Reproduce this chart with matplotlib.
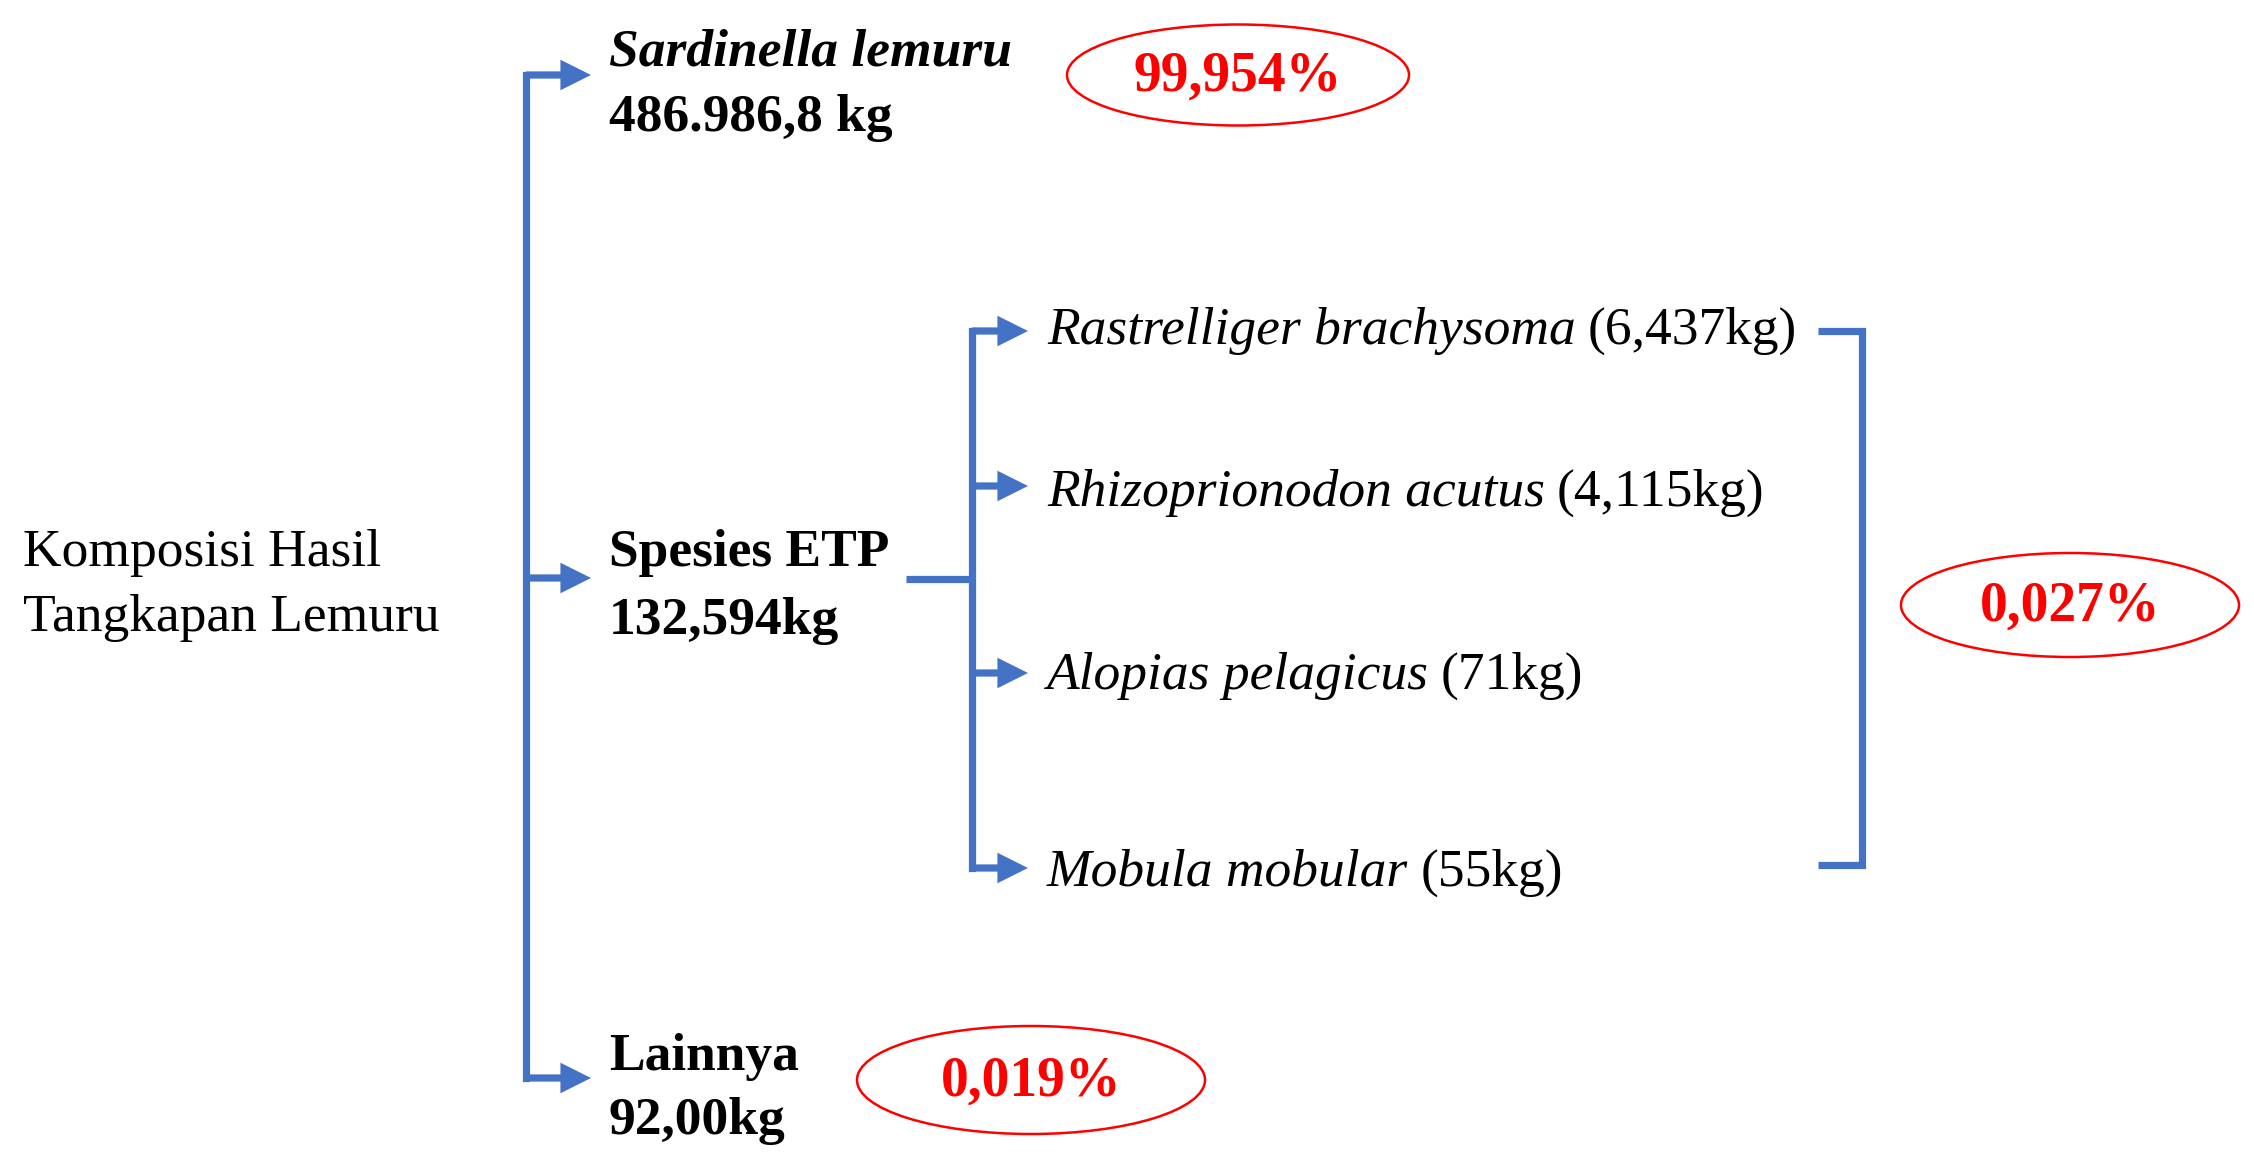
"""
Komposisi hasil tangkapan lemuru: tree diagram with catch weights and shares.
"""
import matplotlib
matplotlib.use("Agg")
import matplotlib.pyplot as plt
from matplotlib.patches import Ellipse, FancyArrowPatch

# ── Data ───────────────────────────────────────────────────────────────────────
ROOT_LINES   = ["Komposisi Hasil", "Tangkapan Lemuru"]
GROUPS       = ["Sardinella lemuru", "Spesies ETP", "Lainnya"]
GROUP_WEIGHT = ["486.986,8 kg", "132,594kg", "92,00kg"]
ETP_SPECIES  = ["Rastrelliger brachysoma", "Rhizoprionodon acutus",
                "Alopias pelagicus", "Mobula mobular"]
ETP_WEIGHT   = ["(6,437kg)", "(4,115kg)", "(71kg)", "(55kg)"]
SHARES       = ["99,954%", "0,027%", "0,019%"]

# ── Style / layout (pixel coordinates, y downward) ────────────────────────────
W, H = 2254, 1152
BLUE = "#4472C4"
RED = "#FF0000"
FONT = "Liberation Serif"
LW = 5.2
FS = 38.5

GROUP_Y   = [75, 578, 1078]          # arrow rows on the main trunk
GROUP_TXT = [(53, 118), (553, 621), (1057, 1121)]
ETP_Y     = [331, 486, 673, 868]
ETP_TXT_Y = [331, 493, 676, 873]
ELLIPSES  = [(1238, 75, 342, 101), (2070, 605, 338, 104), (1031, 1080, 348, 108)]

fig = plt.figure(figsize=(W / 100, H / 100), dpi=100)
ax = fig.add_axes([0, 0, 1, 1])
ax.set_xlim(0, W)
ax.set_ylim(H, 0)
ax.axis("off")


def arrow(x0, y0, x1, y1):
    ax.add_patch(FancyArrowPatch((x0, y0), (x1, y1), arrowstyle="-|>",
                                 mutation_scale=34, lw=LW, color=BLUE,
                                 shrinkA=0, shrinkB=0, joinstyle="miter",
                                 capstyle="butt"))


# root label
for txt, y in zip(ROOT_LINES, [553, 618]):
    ax.text(23, y, txt, fontsize=FS, family=FONT, va="center", ha="left")

# main trunk
ax.plot([526, 526], [GROUP_Y[0], GROUP_Y[-1]], color=BLUE, lw=LW,
        solid_capstyle="projecting")
for y in GROUP_Y:
    arrow(526, y, 591, y)

for i, (name, wt) in enumerate(zip(GROUPS, GROUP_WEIGHT)):
    y1, y2 = GROUP_TXT[i]
    ax.text(609, y1, name, fontsize=FS, family=FONT, weight="bold",
            style="italic" if i == 0 else "normal", va="center")
    ax.text(609, y2, wt, fontsize=FS, family=FONT, weight="bold", va="center")

# ETP branch
ax.plot([906, 972], [579, 579], color=BLUE, lw=LW, solid_capstyle="butt")
ax.plot([972, 972], [ETP_Y[0], ETP_Y[-1]], color=BLUE, lw=LW,
        solid_capstyle="projecting")
for y in ETP_Y:
    arrow(972, y, 1028, y)

fig.canvas.draw()
renderer = fig.canvas.get_renderer()
for name, wt, y in zip(ETP_SPECIES, ETP_WEIGHT, ETP_TXT_Y):
    t = ax.text(1047, y, name, fontsize=FS, family=FONT, style="italic",
                va="center")
    bb = t.get_window_extent(renderer=renderer)
    ax.text(1047 + bb.width + 12, y, wt, fontsize=FS, family=FONT, va="center")

# bracket grouping the ETP species
ax.plot([1818, 1862, 1862, 1818], [331, 331, 865, 865], color=BLUE, lw=LW,
        solid_joinstyle="miter", solid_capstyle="butt")

# percentage ellipses
for (cx, cy, ew, eh), s in zip(ELLIPSES, SHARES):
    ax.add_patch(Ellipse((cx, cy), ew, eh, fill=False, edgecolor=RED, lw=1.8))
    ax.text(cx, cy + 2, s, fontsize=40, family=FONT, weight="bold", color=RED,
            ha="center", va="center")

fig.savefig("out.png", dpi=100, facecolor="white")
plt.close(fig)
